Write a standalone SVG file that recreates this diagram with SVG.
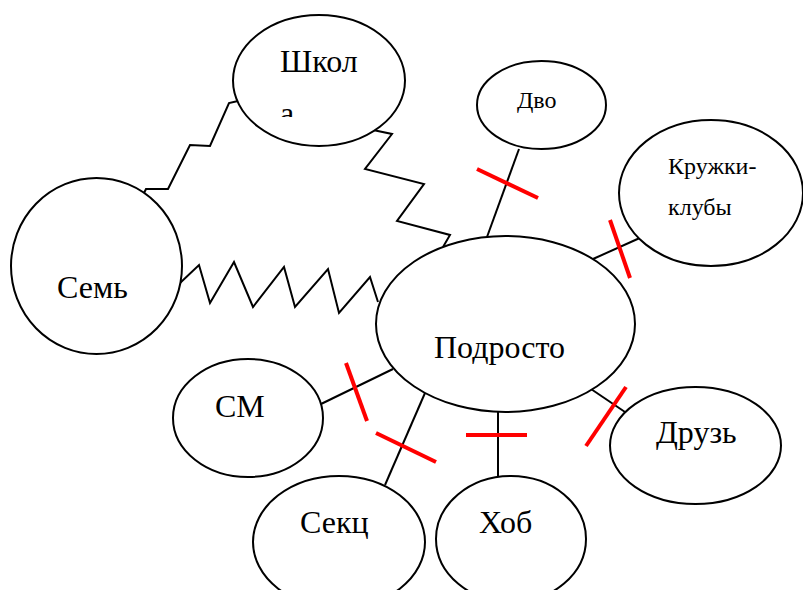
<svg xmlns="http://www.w3.org/2000/svg" width="803" height="590" viewBox="0 0 803 590">
  <style>
    .node { fill: #ffffff; stroke: #000000; stroke-width: 2; }
    .link { fill: none; stroke: #000000; stroke-width: 2; stroke-linejoin: miter; }
    .cut { fill: none; stroke: #ff0000; stroke-width: 4; }
  </style>
  <defs>
    <clipPath id="schoolText">
      <rect x="260" y="30" width="120" height="87"/>
    </clipPath>
  </defs>
  <rect width="803" height="590" fill="#ffffff"/>

  <g id="connectors">
    <!-- zigzag ties -->
    <polyline class="link" points="144,193 146,189 168,189 190,145 210,146 229,103 238,101"/>
    <polyline class="link" points="373,130 392,134 365,169 424,184 397,221 450,235 443,247"/>
    <polyline class="link" points="180,283 199,265 210,303 234,262 253,307 284,267 295,307 328,269 339,313 370,277 378,302"/>
    <!-- straight ties -->
    <line class="link" x1="519" y1="149" x2="487" y2="237"/>
    <line class="link" x1="593" y1="259" x2="642" y2="237"/>
    <line class="link" x1="321" y1="404" x2="393" y2="369"/>
    <line class="link" x1="425" y1="393" x2="385" y2="485"/>
    <line class="link" x1="498" y1="412" x2="498" y2="476"/>
    <line class="link" x1="591" y1="389" x2="625" y2="412"/>
    <!-- red breaks across the ties -->
    <line class="cut" x1="477" y1="169" x2="538" y2="198"/>
    <line class="cut" x1="610" y1="220" x2="630" y2="278"/>
    <line class="cut" x1="346" y1="363" x2="367" y2="421"/>
    <line class="cut" x1="376" y1="433" x2="436" y2="462"/>
    <line class="cut" x1="466" y1="435" x2="527" y2="435"/>
    <line class="cut" x1="626" y1="387" x2="586" y2="446"/>
  </g>

  <g id="school">
    <ellipse class="node" cx="319" cy="80.5" rx="86" ry="65.5"/>
    <g clip-path="url(#schoolText)">
      <text x="280" y="72" font-size="32" fill="#000000" style="font-family:'Liberation Serif', serif !important">Школ</text>
      <text x="280" y="124" font-size="32" fill="#000000" style="font-family:'Liberation Serif', serif !important">а</text>
    </g>
  </g>

  <g id="family">
    <ellipse class="node" cx="96.5" cy="266" rx="85.5" ry="88"/>
    <text x="57" y="298" font-size="32" fill="#000000" style="font-family:'Liberation Serif', serif !important">Семь</text>
  </g>

  <g id="dvo">
    <ellipse class="node" cx="541.5" cy="105" rx="64.5" ry="44"/>
    <text x="517" y="108" font-size="24" fill="#000000" style="font-family:'Liberation Serif', serif !important">Дво</text>
  </g>

  <g id="clubs">
    <ellipse class="node" cx="711" cy="193" rx="92" ry="73"/>
    <text x="668" y="174" font-size="24" fill="#000000" style="font-family:'Liberation Serif', serif !important">Кружки-</text>
    <text x="668" y="215" font-size="24" fill="#000000" style="font-family:'Liberation Serif', serif !important">клубы</text>
  </g>

  <g id="teen">
    <ellipse class="node" cx="505.5" cy="324" rx="129.5" ry="88"/>
    <text x="434" y="358" font-size="32" fill="#000000" style="font-family:'Liberation Serif', serif !important">Подросто</text>
  </g>

  <g id="media">
    <ellipse class="node" cx="248" cy="418" rx="75" ry="59"/>
    <text x="215" y="417" font-size="32" fill="#000000" style="font-family:'Liberation Serif', serif !important">СМ</text>
  </g>

  <g id="sections">
    <ellipse class="node" cx="339" cy="542" rx="86" ry="66"/>
    <text x="300" y="533" font-size="32" fill="#000000" style="font-family:'Liberation Serif', serif !important">Секц</text>
  </g>

  <g id="hobby">
    <ellipse class="node" cx="511" cy="539" rx="75" ry="63"/>
    <text x="479" y="533" font-size="32" fill="#000000" style="font-family:'Liberation Serif', serif !important">Хоб</text>
  </g>

  <g id="friends">
    <ellipse class="node" cx="695.5" cy="445.5" rx="85.5" ry="58.5"/>
    <text x="656" y="443" font-size="32" fill="#000000" style="font-family:'Liberation Serif', serif !important">Друзь</text>
  </g>
</svg>
